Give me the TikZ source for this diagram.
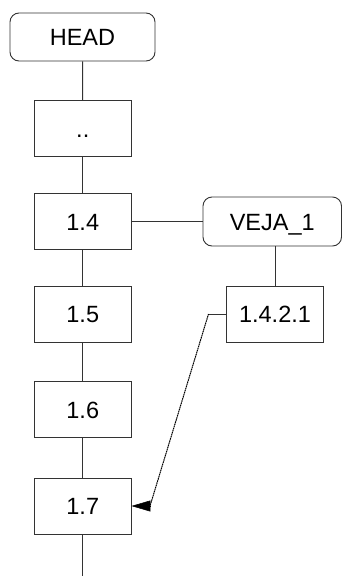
\documentclass[tikz,border=0pt]{standalone}
\usepackage{fontspec}
\setmainfont{Liberation Sans}
\usetikzlibrary{arrows.meta}
\begin{document}
\begin{tikzpicture}[x=1pt, y=-1pt,
  line width=0.9pt,
  every node/.style={font=\fontsize{23.5pt}{28pt}\selectfont, inner sep=0pt,
    text height=17pt, text depth=0pt},
  box/.style={draw=black!80, minimum width=96.5pt, minimum height=56pt},
  rbox/.style={draw=black!80, rounded corners=9pt},
  link/.style={draw=black!80},
  ref/.style={draw=black, line width=1pt, dash pattern=on 1.6pt off 0.6pt},
  reftip/.style={draw=black, line width=0.5pt, -{Triangle[length=19pt,width=11pt]}}
]
\useasboundingbox (0,0) rectangle (342,576);

% main chain
\node[rbox, minimum width=145pt, minimum height=48pt] (head) at (82.5,37) {HEAD};
\node[box] (dots) at (82.75,128.5) {..};
\node[box] (n14)  at (82.75,221.5) {1.4};
\node[box] (n15)  at (82.75,314)   {1.5};
\node[box] (n16)  at (82.75,409.5) {1.6};
\node[box] (n17)  at (82.75,506)   {1.7};
\coordinate (tail) at (82.75,576);

% side branch
\node[rbox, minimum width=138.5pt, minimum height=49pt] (veja) at (272.25,221.5) {VEJA\_1};
\node[box] (n1421) at (275,314) {1.4.2.1};

% connectors
\draw[link] (head) -- (dots);
\draw[link] (dots) -- (n14);
\draw[link] (n14) -- (n15);
\draw[link] (n15) -- (n16);
\draw[link] (n16) -- (n17);
\draw[link] (n17) -- (tail);
\draw[link] (n14.east) -- (veja.west |- n14.east);
\draw[link] (n1421.north) -- (n1421.north |- veja.south);

% cross reference from 1.4.2.1 back to 1.7
\coordinate (bend) at (208.5,314);
\coordinate (tipbase) at (150,506);
\draw[link] (n1421.west) -- (bend);
\draw[ref] (bend) -- (tipbase);
\draw[reftip] (tipbase) -- (n17.east);
\end{tikzpicture}
\end{document}
